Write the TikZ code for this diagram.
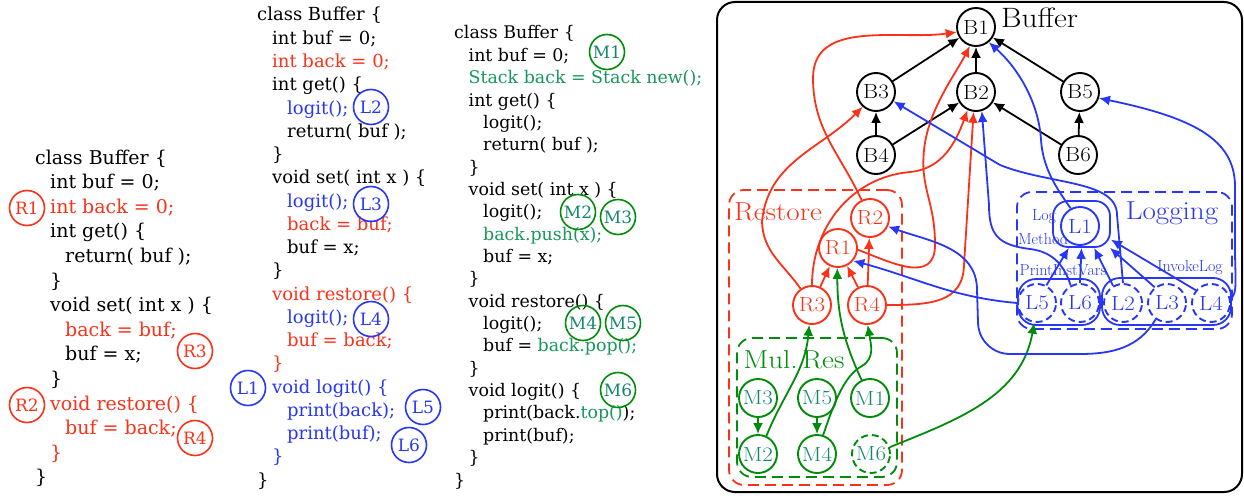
\documentclass[tikz,border=0pt]{standalone}
\usepackage{fontspec}
\newfontfamily\codefont{DejaVu Serif}
\newfontfamily\gfont[FakeStretch=1.12]{Latin Modern Roman}
\usetikzlibrary{arrows.meta}
\definecolor{cred}{RGB}{250,50,25}
\definecolor{cblue}{RGB}{40,55,245}
\definecolor{cgreen}{RGB}{0,140,10}
\definecolor{cteal}{RGB}{20,135,105}
\definecolor{ccg}{RGB}{25,150,90}
\begin{document}
\begin{tikzpicture}[x=1pt,y=1pt,
  code1/.style={anchor=base west, inner sep=0pt, font={\codefont\fontsize{19}{23}\selectfont}},
  code2/.style={anchor=base west, inner sep=0pt, font={\codefont\fontsize{18}{22}\selectfont}},
  code3/.style={anchor=base west, inner sep=0pt, font={\codefont\fontsize{17.4}{21}\selectfont}},
  tagc/.style={circle, draw, line width=1.6pt, minimum size=35pt, inner sep=0pt, font={\codefont\fontsize{17}{18}\selectfont}},
  rtag/.style={tagc, draw=cred, text=cred},
  btag/.style={tagc, draw=cblue, text=cblue},
  gtag/.style={tagc, draw=cgreen, text=cteal},
  gn/.style={circle, draw, line width=1.9pt, minimum size=38pt, inner sep=0pt, fill=white, font={\gfont\fontsize{20.5}{21}\selectfont}},
  bnode/.style={gn},
  rnode/.style={gn, draw=cred, text=cred},
  mnode/.style={gn, draw=cgreen, text=cteal},
  lnode/.style={gn, draw=cblue, text=cblue},
  dnode/.style={dash pattern=on 7pt off 4pt},
  dbox/.style={draw, rounded corners=15pt, line width=1.8pt, dash pattern=on 11pt off 6pt, inner sep=0pt},
  grp/.style={draw=cblue, rounded corners=15pt, line width=1.8pt, inner sep=0pt},
  glabel/.style={inner sep=0pt, font={\gfont\fontsize{26}{28}\selectfont}},
  slabel/.style={inner sep=0pt, font={\fontsize{16}{17}\selectfont}, text=cblue},
  arrowline/.style={-{Latex[length=11pt,width=10pt]}, line width=1.8pt},
  barr/.style={arrowline, black},
  rarr/.style={arrowline, cred},
  garr/.style={arrowline, cgreen},
  larr/.style={arrowline, cblue}
]
\useasboundingbox (0,0) rectangle (1244,-495);

% ---------- code panel 1 ----------
\foreach \lv/\txt [count=\i from 0] in {
0/{class Buffer \{},
1/{int buf = 0;},
1/{\color{cred}int back = 0;},
1/{int get() \{},
2/{return( buf );},
1/{\}},
1/{void set( int x ) \{},
2/{\color{cred}back = buf;},
2/{buf = x;},
1/{\}},
1/{\color{cred}void restore() \{},
2/{\color{cred}buf = back;},
1/{\color{cred}\}},
0/{\}}}
  \node[code1] (pa\i) at ({35+15*\lv},{-164-24.6*\i}) {\txt};

% ---------- code panel 2 ----------
\foreach \lv/\txt [count=\i from 0] in {
0/{class Buffer \{},
1/{int buf = 0;},
1/{\color{cred}int back = 0;},
1/{int get() \{},
2/{\color{cblue}logit();},
2/{return( buf );},
1/{\}},
1/{void set( int x ) \{},
2/{\color{cblue}logit();},
2/{\color{cred}back = buf;},
2/{buf = x;},
1/{\}},
1/{\color{cred}void restore() \{},
2/{\color{cblue}logit();},
2/{\color{cred}buf = back;},
1/{\color{cred}\}},
1/{\color{cblue}void logit() \{},
2/{\color{cblue}print(back);},
2/{\color{cblue}print(buf);},
1/{\color{cblue}\}},
0/{\}}}
  \node[code2] (pb\i) at ({257+15*\lv},{-21-23.25*\i}) {\txt};

% ---------- code panel 3 ----------
\foreach \lv/\txt [count=\i from 0] in {
0/{class Buffer \{},
1/{int buf = 0;},
1/{\color{ccg}Stack back = Stack new();},
1/{int get() \{},
2/{logit();},
2/{return( buf );},
1/{\}},
1/{void set( int x ) \{},
2/{logit();},
2/{\color{ccg}back.push(x);},
2/{buf = x;},
1/{\}},
1/{void restore() \{},
2/{logit();},
2/{buf = {\color{ccg}back.pop();}},
1/{\}},
1/{void logit() \{},
2/{print(back.{\color{ccg}top()});},
2/{print(buf);},
1/{\}},
0/{\}}}
  \node[code3] (pc\i) at ({454+14.5*\lv},{-39-22.35*\i}) {\txt};

% ---------- code tags ----------
\node[rtag] (tR1) at (27,-208) {R1};
\node[rtag] (tR3) at (195,-351) {R3};
\node[rtag] (tR2) at (27,-405) {R2};
\node[rtag] (tR4) at (195,-438) {R4};
\node[btag] (tL2) at (371,-107) {L2};
\node[btag] (tL3) at (371,-204) {L3};
\node[btag] (tL4) at (371,-319) {L4};
\node[btag] (tL1) at (248,-388) {L1};
\node[btag] (tL5) at (423,-407) {L5};
\node[btag] (tL6) at (409,-445) {L6};
\node[gtag] (tM1) at (607,-52) {M1};
\node[gtag] (tM2) at (578,-212) {M2};
\node[gtag] (tM3) at (618,-217) {M3};
\node[gtag] (tM4) at (583,-323) {M4};
\node[gtag] (tM5) at (623,-323) {M5};
\node[gtag] (tM6) at (618,-390) {M6};

% ---------- graph frame and groups ----------
\node[draw, line width=2pt, rounded corners=18pt, minimum width=525pt, minimum height=490pt, inner sep=0pt] (frame) at (979.5,-247) {};
\node[dbox, draw=cred, minimum width=173pt, minimum height=295pt] (restore) at (815.5,-337.5) {};
\node[dbox, draw=cgreen, minimum width=160pt, minimum height=139pt] (mulres) at (817,-407.5) {};
\node[dbox, draw=cblue, minimum width=215pt, minimum height=137pt] (logging) at (1124.5,-260.5) {};
\node[grp, minimum width=57pt, minimum height=46pt] (LM) at (1081.5,-224) {};
\node[grp, rounded corners=18pt, minimum width=82pt, minimum height=46pt] (PIV) at (1059,-302) {};
\node[grp, rounded corners=18pt, minimum width=129pt, minimum height=47pt] (IL) at (1166.5,-301.5) {};

\node[glabel, text=cred] (restoreLbl) at (778,-212) {Restore};
\node[glabel, text=cgreen] (mulresLbl) at (794,-360) {Mul.\hspace{0.18em}Res};
\node[glabel, text=cblue] (loggingLbl) at (1172,-213) {Logging};
\node[glabel, anchor=west, font={\gfont\fontsize{28}{30}\selectfont}] (bufferLbl) at (1001,-18) {Buffer};
\node[slabel] (logLbl) at (1044,-217) {Log};
\node[slabel] (methodLbl) at (1043,-239) {Method};
\node[slabel] (pivLbl) at (1063,-270) {PrintInstVars};
\node[slabel] (ilLbl) at (1190,-268) {InvokeLog};

% ---------- graph nodes ----------
\node[bnode] (B1) at (976,-27) {B1};
\node[bnode] (B3) at (876,-92) {B3};
\node[bnode] (B2) at (976,-92) {B2};
\node[bnode] (B5) at (1080,-92) {B5};
\node[bnode] (B4) at (876,-155) {B4};
\node[bnode] (B6) at (1078,-155) {B6};

\node[rnode] (R2) at (870,-218) {R2};
\node[rnode] (R1) at (838,-248) {R1};
\node[rnode] (R3) at (812,-305) {R3};
\node[rnode] (R4) at (867,-305) {R4};

\node[mnode] (M3) at (758,-398) {M3};
\node[mnode] (M5) at (817,-398) {M5};
\node[mnode] (M1) at (870,-398) {M1};
\node[mnode] (M2) at (758,-454) {M2};
\node[mnode] (M4) at (817,-454) {M4};
\node[mnode, dnode] (M6) at (871,-454) {M6};

\node[lnode] (L1) at (1080,-226) {L1};
\node[lnode, dnode] (L5) at (1037,-303) {L5};
\node[lnode, dnode] (L6) at (1080,-303) {L6};
\node[lnode, dnode] (L2) at (1123,-303) {L2};
\node[lnode, dnode] (L3) at (1167,-303) {L3};
\node[lnode, dnode] (L4) at (1211,-303) {L4};

% ---------- black edges ----------
\draw[barr] (B3) -- (B1);
\draw[barr] (B2) -- (B1);
\draw[barr] (B5) -- (B1);
\draw[barr] (B4) -- (B3);
\draw[barr] (B4) -- (B2);
\draw[barr] (B6) -- (B2);
\draw[barr] (B6) -- (B5);

% ---------- red edges ----------
\draw[rarr] (R2.115) to[out=115,in=-90] (813,-78) to[out=90,in=-172] (B1.-165);
\draw[rarr] (R3.125) to[out=125,in=-88] (762,-222) to[out=85,in=-135] (B3.-132);
\draw[rarr] (R3.north) to[out=90,in=185] (910,-172) to[out=5,in=-110] (B2.-115);
\draw[rarr] (R1.-5) .. controls (890,-262) and (935,-285) .. (935,-245) .. controls (935,-200) and (920,-190) .. (924,-150) .. controls (928,-110) and (955,-75) .. (B1.-108);
\draw[rarr] (R4.east) .. controls (930,-305) and (963,-303) .. (964,-265) -- (B2.-97);
\draw[rarr] (R3) -- (R1);
\draw[rarr] (R4) -- (R1);
\draw[rarr] (R4) -- (R2);

% ---------- green edges ----------
\draw[garr] (M3) -- (M2);
\draw[garr] (M5) -- (M4);
\draw[garr] (M2.65) to[out=68,in=-95] (R3.-98);
\draw[garr] (M4.72) .. controls (835,-400) and (845,-375) .. (862,-366) .. controls (875,-358) and (871,-345) .. (R4.-88);
\draw[garr] (M1.115) to[out=115,in=-90] (R1.-92);
\draw[garr] (M6.20) to[out=22,in=-100] (L5.-98);

% ---------- blue edges ----------
\draw[larr] (L5.west) to[out=175,in=-15] (R1.-40);
\draw[larr] (L3.-125) to[out=-120,in=0] (1080,-354) -- (1010,-354) to[out=180,in=-90] (978,-322) -- (977,-290) to[out=90,in=-20] (R2.-25);
\draw[larr] (L2.north) -- (1117,-215) .. controls (1117,-180) and (1050,-185) .. (1000,-165) -- (B3.-28);
\draw[larr] (L6.118) .. controls (1065,-268) and (1055,-252) .. (1030,-249) .. controls (998,-245) and (989,-235) .. (989,-205) -- (B2.-73);
\draw[larr] (L1.118) .. controls (1058,-190) and (1043,-170) .. (1041,-140) .. controls (1039,-105) and (1020,-70) .. (B1.-50);
\draw[larr] (L4.10) .. controls (1236,-292) .. (1235,-255) -- (1235,-185) .. controls (1234,-140) and (1195,-118) .. (B5.-18);
\draw[larr] (L5.62) -- (LM.-118);
\draw[larr] (L6.north) -- (LM.south);
\draw[larr] (L2.120) -- (LM.-62);
\draw[larr] (L3.128) -- (LM.-40);
\draw[larr] (L4.140) -- (LM.-28);
\end{tikzpicture}
\end{document}
